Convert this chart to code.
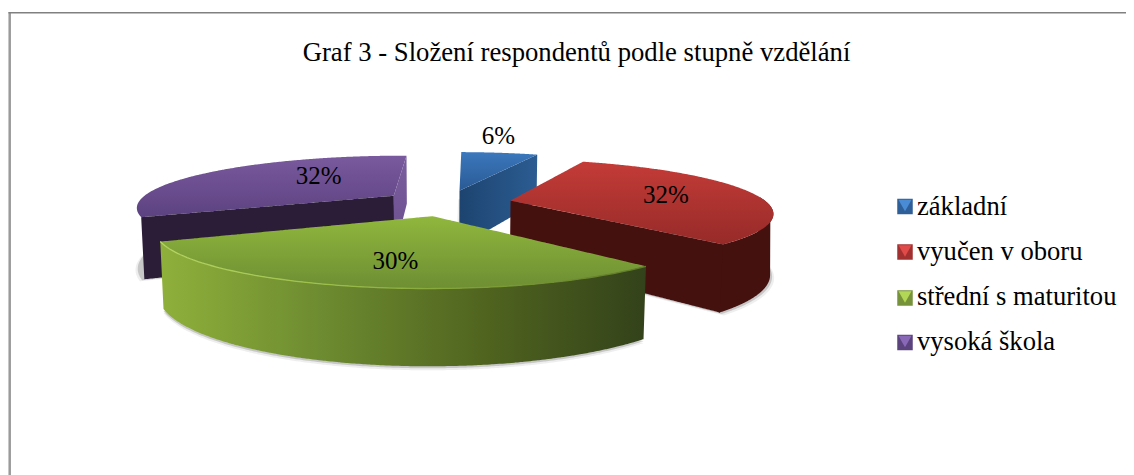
import numpy as np, pandas as pd, altair as alt

categories = ["základní", "vyučen v oboru", "střední s maturitou", "vysoká škola"]
shares = [6, 32, 30, 32]
labels = ["6%", "32%", "30%", "32%"]
title = "Graf 3 - Složení respondentů podle stupně vzdělání"
leg_dark = ["#2e5f98", "#a33030", "#76923a", "#5b437e"]
leg_light = ["#4a8bd6", "#e04a48", "#b2d656", "#8a68b8"]

# 3-D view of the pie: principal point, focal length, distance, pitch, explosion, thickness, rotation
VIEW = (446.7013, 202.7545, 1220.0218, 4.7559, 0.2001, 0.2547, 0.2361, 1.0881)
W, H = 1118, 467

edges = np.cumsum([0] + shares) * 3.6
bis = [(edges[i] + edges[i + 1]) / 2 for i in range(4)]


def proj(t, r, i, z):
    px, py, f, D, phi, e, h, t0 = VIEW
    a = np.radians(np.asarray(t, float) + t0)
    b = np.radians(bis[i] + t0)
    X = e * np.sin(b) + r * np.sin(a)
    Y = e * np.cos(b) + r * np.cos(a)
    Z = -h * z
    yc = Y * np.sin(phi) + Z * np.cos(phi)
    dep = D + Y * np.cos(phi) - Z * np.sin(phi)
    return px + f * X / dep, py - f * yc / dep


def area_df(px_, py_):
    px_, py_ = np.r_[px_, px_[0]], np.r_[py_, py_[0]]
    xs = np.unique(np.r_[np.linspace(px_.min(), px_.max(), 160), px_])
    rows = []
    for xv in xs:
        cr = []
        for i in range(len(px_) - 1):
            a, b = px_[i], px_[i + 1]
            if min(a, b) <= xv <= max(a, b):
                if a == b:
                    cr += [py_[i], py_[i + 1]]
                else:
                    cr.append(py_[i] + (xv - a) / (b - a) * (py_[i + 1] - py_[i]))
        if cr:
            rows.append({"x": xv, "y": min(cr), "y2": max(cr)})
    return pd.DataFrame(rows)


SX = alt.Scale(domain=[8, 8 + W], nice=False, zero=False)
SY = alt.Scale(domain=[8 + H, 8], nice=False, zero=False)
X = alt.X("x:Q", scale=SX, axis=None)
Y = alt.Y("y:Q", scale=SY, axis=None)


def grad(stops, vertical=True):
    n = len(stops)
    return alt.Gradient(gradient="linear", x1=0, y1=0, x2=0 if vertical else 1, y2=1 if vertical else 0,
                        stops=[alt.GradientStop(offset=i / (n - 1), color=c) for i, c in enumerate(stops)])


def fill(px_, py_, color, opacity=1):
    return alt.Chart(area_df(px_, py_)).mark_area(color=color, interpolate="linear", opacity=opacity).encode(X, Y, y2="y2:Q")


def sector(i, z):
    g = np.linspace(edges[i], edges[i + 1], 80)
    x, y = proj(g, 1, i, z)
    ax, ay = proj(0, 0, i, z)
    return np.r_[ax, x], np.r_[ay, y]


def radial(i, t):
    ax, ay = proj(0, 0, i, 0); bx, by = proj(0, 0, i, 1)
    cx, cy = proj(t, 1, i, 0); dx, dy = proj(t, 1, i, 1)
    return np.array([ax, cx, dx, bx], float), np.array([ay, cy, dy, by], float)


def outer(i, t1, t2):
    g = np.linspace(t1, t2, 80)
    x, y = proj(g, 1, i, 0); x2, y2 = proj(g, 1, i, 1)
    return np.r_[x, x2[::-1]], np.r_[y, y2[::-1]]


def shadow(i, dx, dy):
    x, y = sector(i, 1)
    return [fill(x + dx * 2, y + dy * 2, "#888888", .14), fill(x + dx, y + dy, "#777777", .32)]


def rim(i, t1, t2, color, width=1.3):
    g = np.linspace(t1, t2, 80)
    x, y = proj(g, 1, i, 0)
    d = pd.DataFrame({"x": x, "y": y, "o": np.arange(80)})
    return alt.Chart(d).mark_line(color=color, strokeWidth=width).encode(X, Y, order="o:Q")


layers = []
# purple
layers += shadow(3, -2.2, 1)
layers.append(fill(*radial(3, 360), grad(["#7a5d9e", "#6a4f8c"])))
layers.append(fill(*sector(3, 0), grad(["#7a5a9e", "#5c4280"])))
layers.append(fill(*radial(3, edges[3]), "#2b1c38"))
# blue
layers += shadow(0, -1.5, 0)
layers.append(fill(*radial(0, edges[1]), grad(["#1d4470", "#2b5c92"], vertical=False)))
layers.append(fill(*sector(0, 0), grad(["#3b78bd", "#2a5a94"])))
# red
layers += shadow(1, 2, 1.5)
layers.append(fill(*outer(1, 85, edges[2] + 0.3), "#45110f"))
layers.append(fill(*radial(1, edges[2]), "#45110f"))
layers.append(fill(*sector(1, 0), grad(["#c43c38", "#962a28"])))
# green
layers += shadow(2, 0, 2)
layers.append(fill(*outer(2, edges[2], edges[3]), grad(["#8fb03b", "#6d8b30", "#50641f", "#33421a"], vertical=False)))
layers.append(fill(*sector(2, 0), grad(["#90b73d", "#6e8e33"])))
layers.append(rim(2, edges[2], edges[3], grad(["#b5d564", "#9cc04a", "#7d9e36", "#5f7b2a"], vertical=False)))

# data labels
lab_a = [7.2, 79, 188, 320.7]
lab_r = [1.55, .64, .69, .56]
lx, ly = [], []
for i in range(4):
    a, b = proj(lab_a[i], lab_r[i], i, 0)
    lx.append(float(a)); ly.append(float(b))
lab = pd.DataFrame({"x": lx, "y": ly, "t": labels})
layers.append(alt.Chart(lab).mark_text(font="Liberation Serif", fontSize=25, color="#000").encode(X, Y, text="t:N"))

# legend
leg = pd.DataFrame({"x": [905] * 4, "tx": [917] * 4, "y": [206.5, 252, 298, 342.5], "ty": [207, 252, 297, 342],
                    "t": categories, "d": leg_dark, "l": leg_light})
layers.append(alt.Chart(leg).mark_square(size=240, opacity=1).encode(X, Y, color=alt.Color("d:N", scale=None)))
layers.append(alt.Chart(leg).mark_point(shape="triangle-down", filled=True, size=170, opacity=1, yOffset=-1).encode(X, Y, color=alt.Color("l:N", scale=None)))
layers.append(alt.Chart(leg).mark_text(font="Liberation Serif", fontSize=26.6, align="left", color="#000").encode(
    alt.X("tx:Q", scale=SX, axis=None), alt.Y("ty:Q", scale=SY, axis=None), text="t:N"))

# frame
one = pd.DataFrame({"a": [0]})
layers.append(alt.Chart(one).mark_rule(color="#9a9a9a", strokeWidth=2.5).encode(x=alt.value(1.7), y=alt.value(4), y2=alt.value(H)))
layers.append(alt.Chart(one).mark_rule(color="#808080", strokeWidth=1.4).encode(x=alt.value(0.5), x2=alt.value(W), y=alt.value(4.7)))

chart = alt.layer(*layers).properties(
    width=W, height=H, padding=0, autosize=alt.AutoSizeParams(type="none"),
    title=alt.TitleParams(title, font="Liberation Serif", fontSize=26.7, fontWeight="normal", color="#000",
                          anchor="middle", frame="group", dy=76, dx=9.5, baseline="middle"),
).configure_view(stroke=None)
chart.save("out.html", embed_options={"renderer": "svg", "actions": False})
